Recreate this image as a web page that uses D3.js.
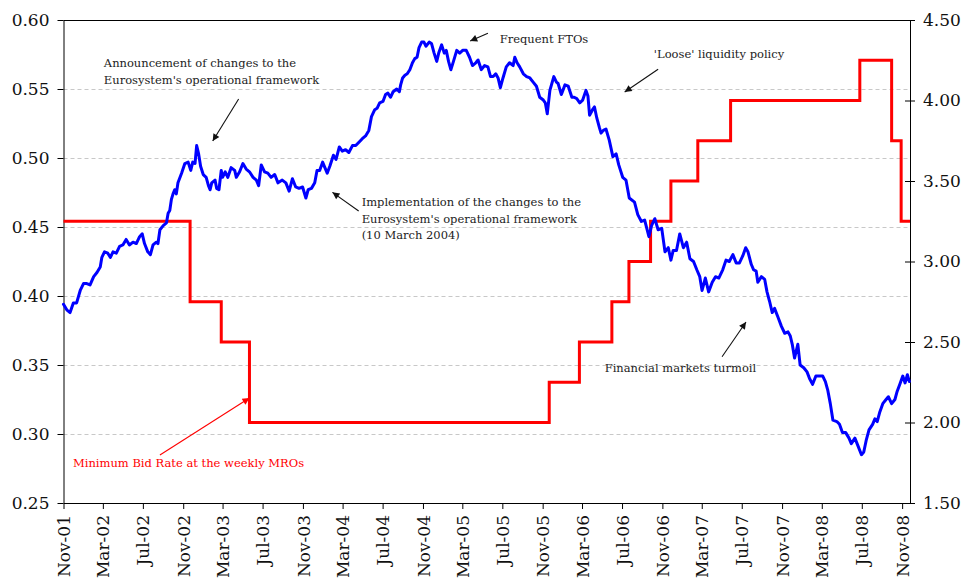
<!DOCTYPE html>
<html>
<head>
<meta charset="utf-8">
<script src="https://cdn.jsdelivr.net/npm/d3@7"></script>
<style>
  body { margin: 0; background: #fff; }
  svg { display: block; }
  text { font-family: Georgia, "DejaVu Serif", serif; }
</style>
</head>
<body>
<svg id="chart" width="965" height="582"></svg>
<script>
// ---- data -----------------------------------------------------------
const leftTicks = [0.25, 0.30, 0.35, 0.40, 0.45, 0.50, 0.55, 0.60];
const rightTicks = [1.50, 2.00, 2.50, 3.00, 3.50, 4.00, 4.50];
const xTickLabels = ["Nov-01", "Mar-02", "Jul-02", "Nov-02", "Mar-03", "Jul-03", "Nov-03",
  "Mar-04", "Jul-04", "Nov-04", "Mar-05", "Jul-05", "Nov-05", "Mar-06", "Jul-06",
  "Nov-06", "Mar-07", "Jul-07", "Nov-07", "Mar-08", "Jul-08", "Nov-08"];

// left-axis series (blue)
const seriesPoints = [
  ["2001-11-01",0.394],["2001-11-11",0.390],["2001-11-21",0.388],["2001-12-01",0.395],["2001-12-11",0.395],
  ["2001-12-22",0.404],["2002-01-01",0.409],["2002-01-11",0.409],["2002-01-21",0.408],["2002-02-01",0.414],
  ["2002-02-11",0.417],["2002-02-21",0.421],["2002-02-26",0.428],["2002-03-06",0.432],["2002-03-16",0.431],
  ["2002-03-24",0.428],["2002-04-01",0.432],["2002-04-11",0.431],["2002-04-21",0.436],["2002-05-01",0.437],
  ["2002-05-11",0.441],["2002-05-21",0.437],["2002-06-01",0.439],["2002-06-11",0.438],["2002-06-21",0.443],
  ["2002-06-29",0.445],["2002-07-06",0.438],["2002-07-16",0.432],["2002-07-24",0.430],["2002-08-01",0.437],
  ["2002-08-11",0.439],["2002-08-16",0.438],["2002-08-22",0.448],["2002-09-01",0.451],["2002-09-11",0.453],
  ["2002-09-16",0.460],["2002-09-21",0.462],["2002-09-26",0.470],["2002-10-01",0.474],["2002-10-06",0.477],
  ["2002-10-11",0.474],["2002-10-16",0.482],["2002-10-27",0.489],["2002-11-06",0.496],["2002-11-16",0.497],
  ["2002-11-24",0.491],["2002-11-30",0.497],["2002-12-07",0.496],["2002-12-12",0.509],["2002-12-18",0.503],
  ["2002-12-24",0.494],["2003-01-01",0.488],["2003-01-10",0.486],["2003-01-17",0.480],["2003-01-22",0.477],
  ["2003-01-27",0.482],["2003-02-06",0.484],["2003-02-11",0.478],["2003-02-18",0.477],["2003-02-25",0.491],
  ["2003-03-01",0.486],["2003-03-09",0.490],["2003-03-17",0.486],["2003-03-27",0.493],["2003-04-07",0.491],
  ["2003-04-12",0.486],["2003-04-22",0.490],["2003-05-02",0.496],["2003-05-12",0.492],["2003-05-22",0.490],
  ["2003-06-02",0.486],["2003-06-12",0.484],["2003-06-19",0.480],["2003-06-27",0.495],["2003-07-07",0.490],
  ["2003-07-17",0.489],["2003-07-27",0.486],["2003-08-07",0.488],["2003-08-17",0.482],["2003-08-30",0.484],
  ["2003-09-10",0.482],["2003-09-20",0.476],["2003-09-30",0.485],["2003-10-10",0.479],["2003-10-20",0.478],
  ["2003-10-31",0.479],["2003-11-10",0.471],["2003-11-17",0.477],["2003-11-27",0.478],["2003-12-07",0.482],
  ["2003-12-14",0.491],["2003-12-22",0.491],["2003-12-31",0.497],["2004-01-07",0.493],["2004-01-14",0.489],
  ["2004-01-22",0.494],["2004-02-02",0.502],["2004-02-10",0.499],["2004-02-20",0.508],["2004-02-29",0.505],
  ["2004-03-10",0.506],["2004-03-20",0.504],["2004-03-31",0.509],["2004-04-10",0.509],["2004-04-22",0.512],
  ["2004-04-30",0.514],["2004-05-10",0.516],["2004-05-20",0.520],["2004-05-28",0.530],["2004-06-07",0.535],
  ["2004-06-14",0.536],["2004-06-22",0.540],["2004-07-02",0.541],["2004-07-10",0.546],["2004-07-17",0.547],
  ["2004-07-25",0.544],["2004-08-02",0.548],["2004-08-13",0.550],["2004-08-21",0.548],["2004-08-25",0.553],
  ["2004-08-31",0.558],["2004-09-07",0.560],["2004-09-14",0.561],["2004-09-22",0.564],["2004-09-30",0.569],
  ["2004-10-07",0.572],["2004-10-14",0.573],["2004-10-20",0.580],["2004-10-28",0.584],["2004-11-04",0.584],
  ["2004-11-10",0.581],["2004-11-20",0.584],["2004-11-27",0.583],["2004-12-05",0.576],["2004-12-13",0.570],
  ["2004-12-19",0.576],["2004-12-28",0.582],["2005-01-05",0.576],["2005-01-11",0.578],["2005-01-18",0.570],
  ["2005-01-25",0.564],["2005-02-02",0.570],["2005-02-12",0.578],["2005-02-21",0.576],["2005-03-02",0.578],
  ["2005-03-13",0.578],["2005-03-23",0.573],["2005-04-01",0.567],["2005-04-11",0.569],["2005-04-18",0.571],
  ["2005-04-28",0.564],["2005-05-08",0.567],["2005-05-18",0.566],["2005-05-26",0.559],["2005-06-03",0.559],
  ["2005-06-11",0.561],["2005-06-18",0.558],["2005-06-25",0.551],["2005-07-03",0.558],["2005-07-13",0.566],
  ["2005-07-23",0.569],["2005-08-03",0.567],["2005-08-08",0.573],["2005-08-15",0.569],["2005-08-23",0.566],
  ["2005-09-03",0.561],["2005-09-13",0.559],["2005-09-23",0.558],["2005-10-03",0.555],["2005-10-13",0.552],
  ["2005-10-23",0.544],["2005-11-03",0.542],["2005-11-09",0.540],["2005-11-15",0.532],["2005-11-23",0.549],
  ["2005-12-05",0.559],["2005-12-13",0.555],["2005-12-18",0.554],["2005-12-28",0.546],["2006-01-08",0.553],
  ["2006-01-18",0.552],["2006-01-29",0.544],["2006-02-05",0.544],["2006-02-13",0.543],["2006-02-22",0.540],
  ["2006-03-03",0.542],["2006-03-13",0.549],["2006-03-19",0.545],["2006-03-24",0.531],["2006-04-02",0.535],
  ["2006-04-08",0.537],["2006-04-15",0.529],["2006-04-23",0.522],["2006-04-28",0.518],["2006-05-05",0.520],
  ["2006-05-13",0.521],["2006-05-23",0.513],["2006-06-03",0.501],["2006-06-13",0.503],["2006-06-21",0.495],
  ["2006-07-03",0.486],["2006-07-13",0.484],["2006-07-23",0.471],["2006-08-08",0.468],["2006-08-18",0.459],
  ["2006-08-29",0.454],["2006-09-08",0.455],["2006-09-21",0.443],["2006-09-29",0.451],["2006-10-09",0.456],
  ["2006-10-19",0.448],["2006-10-30",0.449],["2006-11-09",0.432],["2006-11-19",0.435],["2006-11-27",0.426],
  ["2006-12-04",0.433],["2006-12-14",0.433],["2006-12-24",0.445],["2007-01-04",0.435],["2007-01-14",0.439],
  ["2007-01-24",0.427],["2007-02-04",0.425],["2007-02-14",0.419],["2007-02-23",0.414],["2007-03-02",0.404],
  ["2007-03-12",0.413],["2007-03-22",0.403],["2007-04-02",0.410],["2007-04-12",0.414],["2007-04-22",0.413],
  ["2007-05-04",0.419],["2007-05-14",0.426],["2007-05-24",0.425],["2007-06-04",0.430],["2007-06-14",0.424],
  ["2007-06-24",0.424],["2007-07-04",0.429],["2007-07-13",0.435],["2007-07-20",0.432],["2007-07-30",0.423],
  ["2007-08-06",0.419],["2007-08-14",0.418],["2007-08-19",0.410],["2007-08-30",0.414],["2007-09-09",0.412],
  ["2007-09-16",0.403],["2007-09-24",0.396],["2007-10-02",0.388],["2007-10-09",0.391],["2007-10-19",0.385],
  ["2007-10-30",0.378],["2007-11-09",0.373],["2007-11-19",0.374],["2007-11-26",0.371],["2007-12-02",0.365],
  ["2007-12-09",0.355],["2007-12-19",0.365],["2007-12-26",0.350],["2008-01-06",0.348],["2008-01-16",0.345],
  ["2008-01-24",0.340],["2008-02-02",0.336],["2008-02-12",0.342],["2008-02-24",0.342],["2008-03-04",0.342],
  ["2008-03-12",0.338],["2008-03-19",0.332],["2008-03-27",0.322],["2008-04-04",0.310],["2008-04-16",0.309],
  ["2008-04-24",0.307],["2008-05-03",0.301],["2008-05-13",0.301],["2008-05-23",0.297],["2008-05-30",0.293],
  ["2008-06-10",0.297],["2008-06-20",0.291],["2008-06-30",0.285],["2008-07-07",0.287],["2008-07-15",0.296],
  ["2008-07-23",0.303],["2008-08-03",0.307],["2008-08-10",0.311],["2008-08-17",0.309],["2008-08-25",0.316],
  ["2008-09-03",0.322],["2008-09-13",0.325],["2008-09-20",0.327],["2008-09-30",0.322],["2008-10-10",0.325],
  ["2008-10-17",0.331],["2008-10-25",0.336],["2008-11-03",0.342],["2008-11-10",0.337],["2008-11-17",0.343],
  ["2008-11-23",0.338]
];

// Minimum bid rate at the weekly MROs (right axis, %), step changes
const mroDates = ["2001-11-01", "2002-11-22", "2003-02-25", "2003-05-22", "2005-11-21", "2006-02-21",
  "2006-05-31", "2006-07-22", "2006-09-26", "2006-11-27", "2007-02-17", "2007-05-28",
  "2008-06-25", "2008-09-30", "2008-10-29", "2008-11-25"];
const mroRates = [3.25, 2.75, 2.50, 2.00, 2.25, 2.50, 2.75, 3.00, 3.25, 3.50, 3.75, 4.00,
  4.25, 3.75, 3.25, 3.25];

// annotation texts
const noteAnnouncement = ["Announcement of changes to the", "Eurosystem's operational framework"];
const noteFTO = ["Frequent FTOs"];
const noteLoose = ["'Loose' liquidity policy"];
const noteImplementation = ["Implementation of the changes to the", "Eurosystem's operational framework", "(10 March 2004)"];
const noteTurmoil = ["Financial markets turmoil"];
const noteMRO = ["Minimum Bid Rate at the weekly MROs"];

// ---- chart ----------------------------------------------------------
const svg = d3.select("#chart");
const plot = { left: 63.5, right: 910, top: 20, bottom: 503 };
const parseDay = d3.timeParse("%Y-%m-%d");
const parseTick = d3.timeParse("%b-%y");

const x = d3.scaleTime()
  .domain([parseDay("2001-11-01"), parseDay("2008-11-25")])
  .range([plot.left, plot.right]);
const yL = d3.scaleLinear().domain([0.25, 0.60]).range([plot.bottom, plot.top]);
const yR = d3.scaleLinear().domain([1.5, 4.5]).range([plot.bottom, plot.top]);

const axisFont = "17px";

// dashed horizontal gridlines
svg.append("g").selectAll("line")
  .data(leftTicks.filter(t => t > 0.25 && t < 0.60))
  .join("line")
  .attr("x1", plot.left).attr("x2", plot.right)
  .attr("y1", d => Math.round(yL(d)) + 0.5).attr("y2", d => Math.round(yL(d)) + 0.5)
  .attr("stroke", "#c8c8c8").attr("stroke-width", 1).attr("stroke-dasharray", "4,3");

// frame top edge
svg.append("line")
  .attr("x1", plot.left).attr("x2", plot.right)
  .attr("y1", plot.top + 0.5).attr("y2", plot.top + 0.5)
  .attr("stroke", "#000").attr("stroke-width", 1);

function styleAxis(g) {
  g.select(".domain").attr("stroke", "#000").attr("stroke-width", 1);
  g.selectAll(".tick line").attr("stroke", "#000");
  g.selectAll(".tick text").attr("fill", "#111").style("font-size", axisFont)
    .style("font-family", 'Georgia, "DejaVu Serif", serif');
}

// left axis
svg.append("g")
  .attr("transform", `translate(${plot.left},0)`)
  .call(d3.axisLeft(yL).tickValues(leftTicks).tickFormat(d3.format(".2f"))
    .tickSize(6).tickSizeOuter(0).tickPadding(8))
  .call(styleAxis);

// right axis with ticks crossing the axis line
svg.append("g")
  .attr("transform", `translate(${plot.right},0)`)
  .call(d3.axisRight(yR).tickValues(rightTicks).tickFormat(d3.format(".2f"))
    .tickSize(5).tickSizeOuter(0).tickPadding(8))
  .call(styleAxis)
  .call(g => g.selectAll(".tick line").attr("x1", -5));

// bottom axis with rotated month labels
const xTickDates = xTickLabels.map(l => parseTick(l));
svg.append("g")
  .attr("transform", `translate(0,${plot.bottom})`)
  .call(d3.axisBottom(x).tickValues(xTickDates).tickFormat((d, i) => xTickLabels[i])
    .tickSize(6).tickSizeOuter(0))
  .call(styleAxis)
  .call(g => g.selectAll(".tick text")
    .attr("transform", "rotate(-90)")
    .attr("text-anchor", "end")
    .attr("x", -12).attr("y", 0).attr("dy", "0.36em"));

// MRO minimum bid rate – step line (red)
const mroData = mroDates.map((d, i) => ({ date: parseDay(d), value: mroRates[i] }));
svg.append("path")
  .datum(mroData)
  .attr("fill", "none").attr("stroke", "#ff0000").attr("stroke-width", 3)
  .attr("d", d3.line().x(d => x(d.date)).y(d => yR(d.value)).curve(d3.curveStepAfter));

// main series (blue)
const series = seriesPoints.map(([d, v]) => ({ date: parseDay(d), value: v }));
svg.append("path")
  .datum(series)
  .attr("fill", "none").attr("stroke", "#0000ff").attr("stroke-width", 3)
  .attr("stroke-linejoin", "round").attr("stroke-linecap", "round")
  .attr("d", d3.line().x(d => x(d.date)).y(d => yL(d.value)));

// ---- annotations (anchored in data space on the left axis) ----------
const defs = svg.append("defs");
function marker(id, color) {
  defs.append("marker")
    .attr("id", id).attr("viewBox", "0 0 10 10")
    .attr("refX", 10).attr("refY", 5)
    .attr("markerWidth", 9).attr("markerHeight", 7)
    .attr("markerUnits", "userSpaceOnUse")
    .attr("orient", "auto")
    .append("path").attr("d", "M0,0 L10,5 L0,10 Z").attr("fill", color);
}
marker("arrowBlack", "#111");
marker("arrowRed", "#ff0000");

const at = (d, v) => [x(parseDay(d)), yL(v)];

function note(lines, pos, lineGap, color) {
  const t = svg.append("text")
    .attr("x", pos[0]).attr("y", pos[1])
    .attr("fill", color).style("font-size", "11.5px");
  lines.forEach((s, i) => {
    t.append("tspan").attr("x", pos[0]).attr("y", pos[1] + i * lineGap).text(s);
  });
}
function arrow(from, to, color, id) {
  svg.append("line")
    .attr("x1", from[0]).attr("y1", from[1]).attr("x2", to[0]).attr("y2", to[1])
    .attr("stroke", color).attr("stroke-width", 1.1)
    .attr("marker-end", `url(#${id})`);
}

note(noteAnnouncement, at("2002-03-04", 0.5663), 17.5, "#222");
arrow(at("2003-04-19", 0.5428), at("2003-01-30", 0.5123), "#111", "arrowBlack");

note(noteFTO, at("2005-06-23", 0.5831), 17, "#222");
arrow(at("2005-05-18", 0.5904), at("2005-03-25", 0.5848), "#111", "arrowBlack");

note(noteLoose, at("2006-10-06", 0.5722), 17, "#222");
arrow(at("2006-10-19", 0.5643), at("2006-07-09", 0.5478), "#111", "arrowBlack");

note(noteImplementation, at("2004-04-28", 0.4652), 16.7, "#222");
arrow(at("2004-04-19", 0.4616), at("2004-01-30", 0.4751), "#111", "arrowBlack");

note(noteTurmoil, at("2006-05-09", 0.3452), 17, "#222");
arrow(at("2007-05-02", 0.3560), at("2007-07-14", 0.3812), "#111", "arrowBlack");

note(noteMRO, at("2001-11-30", 0.2761), 17, "#ff0000");
arrow(at("2002-08-22", 0.2848), at("2003-05-22", 0.3261), "#ff0000", "arrowRed");
</script>
</body>
</html>
